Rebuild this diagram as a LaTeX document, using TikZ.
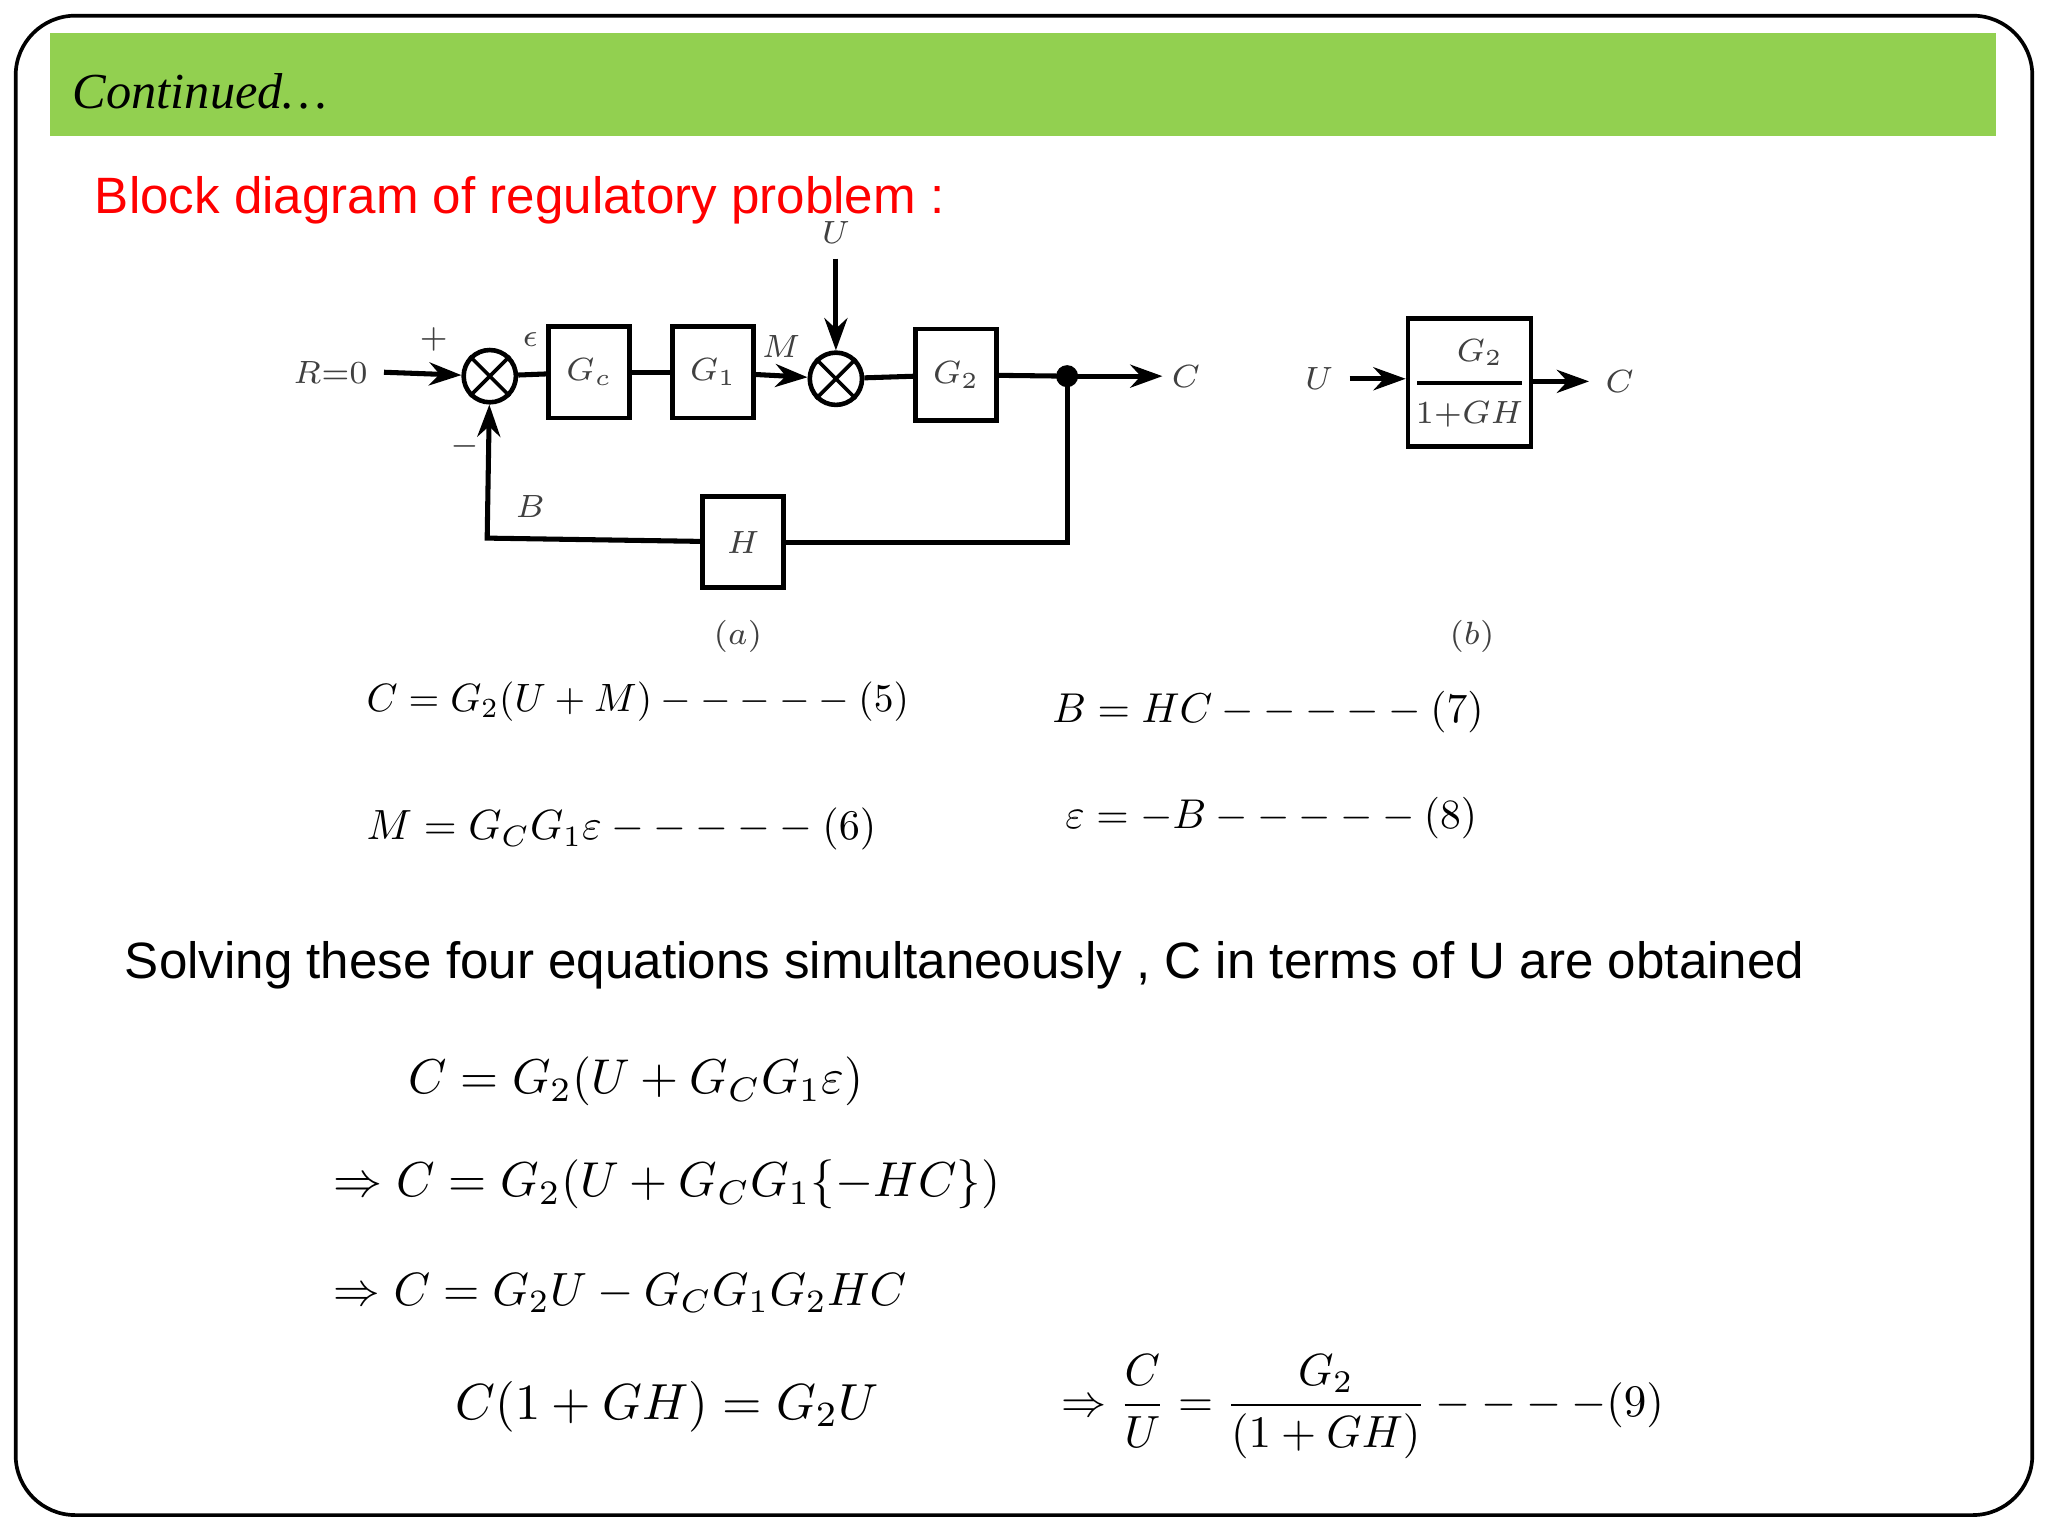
\documentclass[tikz,border=0pt]{standalone}
\usepackage{fontspec}
\usepackage{amsmath}
\usepackage{graphicx}
\newfontfamily\sansf{Liberation Sans}
\newfontfamily\serf{Liberation Serif}
\usetikzlibrary{arrows.meta}
\newcommand{\fitw}[2]{\resizebox{#1}{!}{#2}}
\tikzset{
  blk/.style={draw,line width=1pt,minimum width=0.62cm,minimum height=0.7cm,inner sep=0pt},
  sumj/.style={draw,circle,line width=1pt,minimum size=0.4cm,inner sep=0pt},
  ln/.style={line width=1.1pt},
  ar/.style={line width=1.1pt,-{Stealth[length=7pt,width=5pt]}},
  lbl/.style={font=\fontsize{7.5}{7.5}\selectfont,text=black!75},
  eq/.style={anchor=west,inner sep=0pt}
}
\begin{document}
\begin{tikzpicture}[x=0.01cm,y=-0.01cm]
\useasboundingbox (0,0) rectangle (1568,1176);
\fill[white] (0,0) rectangle (1568,1176);
\draw[line width=0.8pt,rounded corners=13pt] (12,12) rectangle (1556,1160);
\fill[fill={rgb,255:red,146;green,208;blue,80}] (38,25) rectangle (1528,104);
\node[eq] (cont) at (55,70) {\fitw{1.95cm}{\serf\itshape Continued\dots}};
\node[eq,text=red] (title) at (72,153) {\fitw{6.5cm}{\sansf Block diagram of regulatory problem :}};
% diagram (a)
\node[lbl,anchor=east] (R) at (294,285) {$R{=}0$};
\node[sumj] (s1) at (375,288) {};
\draw[line width=0.8pt] (s1.north west)--(s1.south east) (s1.north east)--(s1.south west);
\node[blk,lbl] (gc) at (451,285) {$G_c$};
\node[blk,lbl] (g1) at (546,285) {$G_1$};
\node[sumj] (s2) at (640,290) {};
\draw[line width=0.8pt] (s2.north west)--(s2.south east) (s2.north east)--(s2.south west);
\node[blk,lbl] (g2) at (732,287) {$G_2$};
\coordinate (j) at (817,288);
\fill (j) circle (2.4pt);
\coordinate (cout) at (890,288);
\node[lbl] (Cl) at (908,288) {$C$};
\coordinate (utop) at (640,198);
\node[lbl] (Ul) at (640,178) {$U$};
\node[blk,lbl] (h) at (569,415) {$H$};
\coordinate (fbr) at (817,415);
\coordinate (fbl) at (373,412);
\draw[ar] (R.east) -- (s1);
\draw[ln] (s1) -- (gc);
\draw[ln] (gc) -- (g1);
\draw[ar] (g1) -- (s2);
\draw[ln] (s2) -- (g2);
\draw[ln] (g2) -- (j);
\draw[ar] (j) -- (cout);
\draw[ar] (utop) -- (s2);
\draw[ln] (j) -- (fbr) -- (h);
\draw[ar] (h) -- (fbl) -- (s1);
\node[lbl] at (332,260) {$+$};
\node[lbl] at (356,342) {$-$};
\node[lbl] at (406,260) {$\epsilon$};
\node[lbl] at (598,265) {$M$};
\node[lbl] at (406,388) {$B$};
\node[lbl] at (565,487) {$(a)$};
% diagram (b)
\node[draw,line width=1pt,minimum width=0.94cm,minimum height=0.98cm,inner sep=0pt] (gb) at (1125,293) {};
\node[lbl] at (1133,270) {$G_2$};
\draw[line width=0.8pt] (1085,293) -- (1165,293);
\node[lbl] at (1125,317) {$1{+}GH$};
\node[lbl] (Ub) at (1010,290) {$U$};
\node[lbl] (Cb) at (1240,292) {$C$};
\draw[ar] (Ub.east) -- (gb.west |- Ub.east);
\draw[ar] (gb.east |- Cb.west) -- (Cb.west);
\node[lbl] at (1127,487) {$(b)$};
% equations
\node[eq] at (280,537) {\fitw{4.15cm}{$C=G_2(U+M)-----(5)$}};
\node[eq] at (280,635) {\fitw{3.9cm}{$M=G_CG_1\varepsilon-----(6)$}};
\node[eq] at (805,545) {\fitw{3.3cm}{$B=HC-----(7)$}};
\node[eq] at (815,626) {\fitw{3.15cm}{$\varepsilon=-B-----(8)$}};
\node[eq] at (95,739) {\fitw{12.85cm}{\sansf Solving these four equations simultaneously , C in terms of U are obtained}};
\node[eq] at (312,828) {\fitw{3.48cm}{$C=G_2(U+G_CG_1\varepsilon)$}};
\node[eq] at (255,907) {\fitw{5.1cm}{$\Rightarrow C=G_2(U+G_CG_1\{-HC\})$}};
\node[eq] at (255,990) {\fitw{4.38cm}{$\Rightarrow C=G_2U-G_CG_1G_2HC$}};
\node[eq] at (348,1077) {\fitw{3.24cm}{$C(1+GH)=G_2U$}};
\node[eq] at (812,1077) {\fitw{4.61cm}{$\Rightarrow \dfrac{C}{U}=\dfrac{G_2}{(1+GH)}----(9)$}};
\end{tikzpicture}
\end{document}
